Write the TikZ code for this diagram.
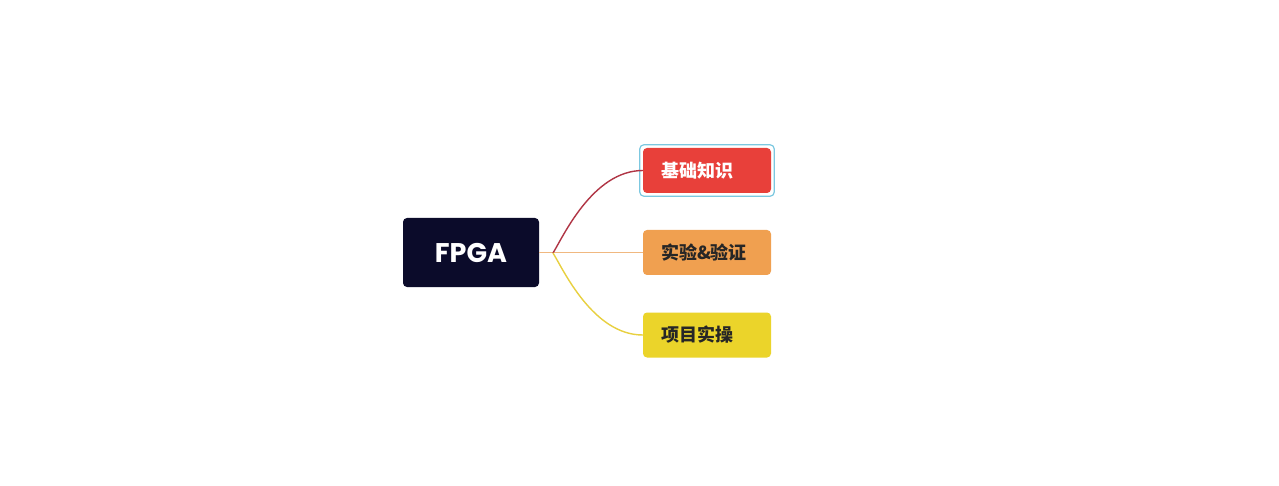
\documentclass[tikz,border=0pt]{standalone}
\usepackage{fontspec}
\newfontfamily\cjk{Noto Sans CJK SC}
\newfontfamily\poppins{Poppins}
\usetikzlibrary{calc}
\definecolor{rootbg}{HTML}{0B0B2A}
\definecolor{redbg}{HTML}{E8403A}
\definecolor{orangebg}{HTML}{F0A050}
\definecolor{yellowbg}{HTML}{EBD42A}
\definecolor{redlink}{HTML}{B03545}
\definecolor{orangelink}{HTML}{F0B880}
\definecolor{yellowlink}{HTML}{E8D040}
\definecolor{selcyan}{HTML}{7CC8E0}
\tikzset{
  topic/.style={rounded corners=4pt, inner ysep=0pt, inner xsep=18pt, text width=92pt, align=left, minimum width=128pt, minimum height=45pt, font=\cjk\bfseries\fontsize{18}{18}\selectfont},
  link/.style={line width=1.4pt}
}

\begin{document}
\begin{tikzpicture}[x=1pt, y=1pt]
			%%%%% START %%%%%
			
			\useasboundingbox[fill=white] (0, 0) rectangle (1279, -486);
			
			\node[fill=rootbg, rounded corners=4pt, minimum width=136pt, minimum height=69pt, text=white, font=\poppins\bfseries\fontsize{27}{27}\selectfont] (fpga) at (471, -252.5) {FPGA};
			\coordinate (hub) at (553, -253);
			
			\node[topic, fill=redbg, text=white] (basics) at (707, -170.5) {基础知识};
			\node[topic, fill=orangebg, text=black!85] (tests) at (707, -252.5) {实验\&验证};
			\node[topic, fill=yellowbg, text=black!85] (project) at (707, -335) {项目实操};
			
			\draw[line width=1.2pt, color=selcyan, rounded corners=4pt] ($(basics.south west)+(-3, -3)$) rectangle ($(basics.north east)+(3, 3)$);
			
			\draw[link, color=orangelink] (fpga.east) -- (tests.west);
			\draw[link, color=redlink] (hub) .. controls +(10, 16) and +(-50, 0) .. (basics.west);
			\draw[link, color=yellowlink] (hub) .. controls +(10, -16) and +(-50, 0) .. (project.west);
			
			%%%%% END %%%%%
		\end{tikzpicture}
\end{document}
